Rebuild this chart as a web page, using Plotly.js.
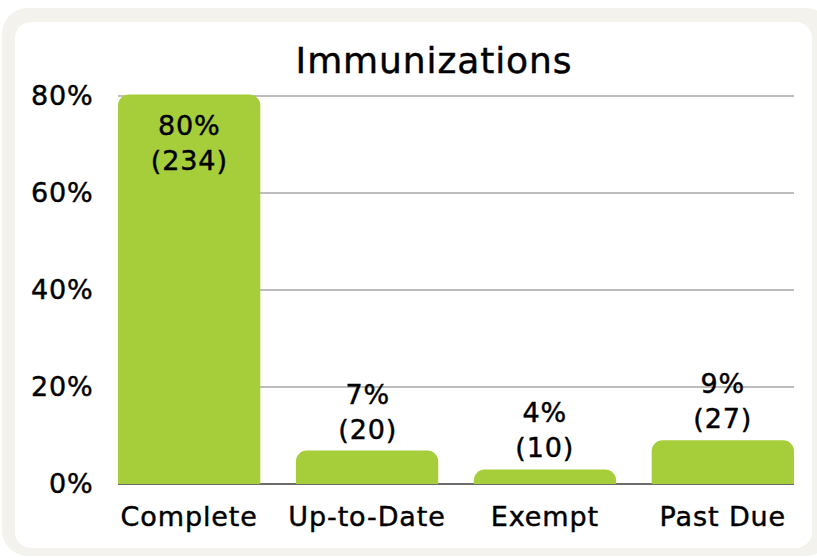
<!DOCTYPE html>
<html><head><meta charset="utf-8">
<script src="https://cdn.plot.ly/plotly-3.0.1.min.js"></script>
<style>
html,body{margin:0;padding:0;background:#fff;width:817px;height:558px;overflow:hidden;}
#outer{position:absolute;left:2px;top:8px;width:830px;height:548px;background:#f4f2ec;border-radius:26px;}
#inner{position:absolute;left:15px;top:22px;width:797px;height:526px;background:#fff;border-radius:16px;}
#chart{position:absolute;left:0;top:0;width:817px;height:558px;}
#chart svg text{letter-spacing:0.9px;stroke:#000;stroke-width:0.45px;}
</style></head>
<body>
<div id="outer"></div><div id="inner"></div><div id="chart"></div>
<script>
const categories = ["Complete", "Up-to-Date", "Exempt", "Past Due"];
const percentValues = [80.3, 6.9, 3.0, 9.0];
const percentLabels = ["80%", "7%", "4%", "9%"];
const counts = [234, 20, 10, 27];
const yTickValues = [0, 20, 40, 60, 80];
const yTickLabels = ["0%", "20%", "40%", "60%", "80%"];

const FONT = "DejaVu Sans, sans-serif";
const labels = percentLabels.map((p, i) => p + "<br>(" + counts[i] + ")");
const labelFont = {family: FONT, size: 27, color: "#000"};

const trace = {
  type: "bar",
  x: categories,
  y: percentValues,
  hoverinfo: "none",
  marker: {color: "#a6cd3a", cornerradius: 11, line: {width: 0}}
};

// labels: the tall bar carries its label inside, the short ones above
const annotations = categories.map((c, i) => {
  const inside = percentValues[i] > 40;
  return {
    x: c, y: percentValues[i], xref: "x", yref: "y",
    text: labels[i], showarrow: false, font: labelFont,
    xanchor: "center", yanchor: inside ? "top" : "bottom",
    yshift: inside ? -14 : 4
  };
});

const layout = {
  width: 817, height: 558,
  paper_bgcolor: "rgba(0,0,0,0)",
  plot_bgcolor: "rgba(0,0,0,0)",
  margin: {l: 118, r: 23, t: 93, b: 74},
  bargap: 0.2,
  showlegend: false,
  font: {family: FONT, color: "#000"},
  annotations: annotations,
  title: {text: "Immunizations", font: {family: FONT, size: 36, color: "#000"},
          x: 434/817, xanchor: "center", xref: "container", y: 1-60/558, yanchor: "middle", yref: "container"},
  xaxis: {
    range: [-0.4, 3.4], fixedrange: true,
    tickfont: {family: FONT, size: 27, color: "#000"},
    showgrid: false, ticks: "outside", ticklen: 9, tickcolor: "rgba(0,0,0,0)",
    showline: false, zeroline: false
  },
  yaxis: {
    range: [0, 80.6], fixedrange: true,
    tickvals: yTickValues, ticktext: yTickLabels,
    tickfont: {family: FONT, size: 27, color: "#000"},
    gridcolor: "#bdbdbd", gridwidth: 1.5,
    zeroline: true, zerolinecolor: "#6b6b6b", zerolinewidth: 1.5,
    ticks: "outside", ticklen: 18, tickcolor: "rgba(0,0,0,0)",
    showline: false
  }
};

Plotly.newPlot("chart", [trace], layout, {displayModeBar: false, staticPlot: true});
</script>
</body></html>
